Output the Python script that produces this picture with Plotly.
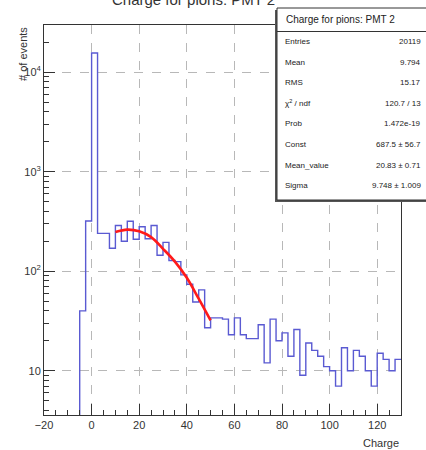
import numpy as np
import plotly.graph_objects as go

# ---------------- data ----------------
BIN_LOW = -20.0
BIN_WIDTH = 2.5
counts = [0, 0, 0, 0, 0, 0,
          40, 320, 15600, 240, 240, 170, 288, 200, 318, 210,
          280, 212, 288, 145, 195, 128, 125, 92, 74, 49,
          65, 27, 34, 34, 33, 23, 34, 23, 21, 21,
          29, 12, 33, 20, 24, 14, 26, 9, 19, 16,
          14, 11, 10, 7, 17, 10, 16, 14, 10, 7,
          15, 13, 10, 13]

fit_x = [10, 15, 20, 25, 30, 35, 40, 45, 50]
fit_y = [248, 262, 252, 220, 168, 125, 86, 53, 32]

x_ticks = [-20, 0, 20, 40, 60, 80, 100, 120]
y_ticks = [10, 100, 1000, 10000]
y_ticktext = ["10", "10<sup>2</sup>", "10<sup>3</sup>", "10<sup>4</sup>"]

title_text = "Charge for pions: PMT 2"
stat_labels = ["Entries", "Mean", "RMS", "χ<sup>2</sup> / ndf", "Prob", "Const",
               "Mean_value", "Sigma"]
stat_values = ["20119", "9.794", "15.17", "120.7 / 13", "1.472e-19",
               "687.5 ± 56.7", "20.83 ± 0.71", "9.748 ± 1.009"]

# ---------------- layout geometry ----------------
W, H = 426, 450
L, R, T, B = 44, 25, 25, 35
PW, PH = W - L - R, H - T - B


def px(x):
    return (x - L) / PW


def py(y):
    return (H - B - y) / PH


FONT = "Liberation Sans, Arial, Helvetica, sans-serif"

# histogram steps
n = len(counts)
edges = BIN_LOW + BIN_WIDTH * np.arange(n + 1)
floor = 1e-3
hx = list(edges)
hy = [c if c > 0 else floor for c in counts] + [counts[-1] if counts[-1] > 0 else floor]

fig = go.Figure()
fig.add_trace(go.Scatter(x=hx, y=hy, mode="lines", line_shape="hv",
                         line=dict(color="#5a5ad2", width=1.4),
                         showlegend=False, hoverinfo="skip"))
fig.add_trace(go.Scatter(x=fit_x, y=fit_y, mode="lines", line_shape="spline",
                         line=dict(color="#ff1a1a", width=2.6),
                         showlegend=False, hoverinfo="skip"))

minor_y = [m * 10 ** d for d in range(0, 5) for m in range(2, 10)]

fig.update_xaxes(range=[-20, 130], tickmode="array", tickvals=x_ticks,
                 ticks="inside", ticklen=11, tickcolor="#333", tickwidth=1,
                 minor=dict(ticks="inside", ticklen=5, dtick=5, tick0=0,
                            tickcolor="#333", showgrid=False),
                 showgrid=True, gridcolor="#b8b8b8", griddash="dash", gridwidth=1,
                 showline=True, mirror=True, linecolor="#333", linewidth=1,
                 zeroline=False,
                 tickfont=dict(family=FONT, size=11, color="#333"))
fig.update_yaxes(type="log", range=[0.555, 4.475], tickmode="array",
                 tickvals=y_ticks, ticktext=y_ticktext,
                 ticks="inside", ticklen=11, tickcolor="#333", tickwidth=1,
                 minor=dict(ticks="inside", ticklen=5, tickmode="array",
                            tickvals=minor_y, tickcolor="#333", showgrid=False),
                 showgrid=True, gridcolor="#b8b8b8", griddash="dash", gridwidth=1,
                 showline=True, mirror=True, linecolor="#333", linewidth=1,
                 zeroline=False,
                 tickfont=dict(family=FONT, size=11, color="#333"))

shapes = []
annotations = []

# partially visible title at the very top
annotations.append(dict(xref="paper", yref="paper", x=px(193), y=py(-1),
                        xanchor="center", yanchor="middle", showarrow=False,
                        text=title_text, font=dict(family=FONT, size=15, color="#333")))

# axis titles
annotations.append(dict(xref="paper", yref="paper", x=px(401), y=py(443),
                        xanchor="right", yanchor="middle", showarrow=False,
                        text="Charge", font=dict(family=FONT, size=11, color="#333")))
annotations.append(dict(xref="paper", yref="paper", x=px(23), y=py(25),
                        xanchor="center", yanchor="top", showarrow=False,
                        textangle=-90, text="# of events",
                        font=dict(family=FONT, size=11, color="#333")))

# stats box
BX0, BX1, BY0, BY1 = 277, 432, 8, 200
shapes.append(dict(type="rect", xref="paper", yref="paper",
                   x0=px(BX0 - 2), x1=px(BX1), y0=py(BY1 + 2), y1=py(BY0 + 2),
                   fillcolor="#555", line=dict(width=0), layer="above"))
shapes.append(dict(type="rect", xref="paper", yref="paper",
                   x0=px(BX0), x1=px(BX1), y0=py(BY1), y1=py(BY0),
                   fillcolor="white", line=dict(color="#333", width=1), layer="above"))
shapes.append(dict(type="line", xref="paper", yref="paper",
                   x0=px(BX0), x1=px(BX1), y0=py(31.5), y1=py(31.5),
                   line=dict(color="#333", width=1), layer="above"))
annotations.append(dict(xref="paper", yref="paper", x=px(284), y=py(19.5),
                        xanchor="left", yanchor="middle", showarrow=False,
                        text=title_text, font=dict(family=FONT, size=10, color="#222")))
row_y0, row_dy = 41.5, 20.6
for i, (lab, val) in enumerate(zip(stat_labels, stat_values)):
    yy = row_y0 + i * row_dy
    annotations.append(dict(xref="paper", yref="paper", x=px(283), y=py(yy),
                            xanchor="left", yanchor="middle", showarrow=False,
                            text=lab, font=dict(family=FONT, size=8, color="#222")))
    annotations.append(dict(xref="paper", yref="paper", x=px(423), y=py(yy),
                            xanchor="right", yanchor="middle", showarrow=False,
                            text=val, font=dict(family=FONT, size=8, color="#222")))

fig.update_layout(width=W, height=H, margin=dict(l=L, r=R, t=T, b=B, autoexpand=False),
                  paper_bgcolor="white", plot_bgcolor="white",
                  shapes=shapes, annotations=annotations, showlegend=False)

fig.write_html("out.html")
